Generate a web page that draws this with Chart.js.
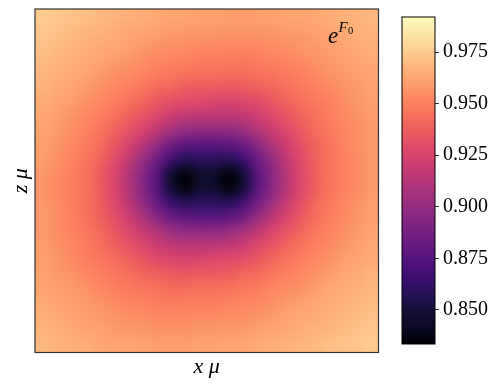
<!DOCTYPE html>
<html>
<head>
<meta charset="utf-8">
<script src="https://cdn.jsdelivr.net/npm/chart.js@4.4.0/dist/chart.umd.min.js"></script>
<style>
  html, body { margin: 0; padding: 0; background: #fff; }
  #wrap { position: relative; width: 499px; height: 388px; }
  #main { position: absolute; left: 0; top: 0; }
  #cbar { position: absolute; left: 395px; top: 0; }
</style>
</head>
<body>
<div id="wrap">
  <canvas id="main" width="499" height="388"></canvas>
  <canvas id="cbar" width="104" height="388"></canvas>
</div>
<script>
// cell centres along x (left to right) and z (top to bottom)
const xCells = [0.5, 1.5, 2.5, 3.5, 4.5, 5.5, 6.5, 7.5, 8.5, 9.5, 10.5, 11.5,
                12.5, 13.5, 14.5, 15.5, 16.5, 17.5, 18.5, 19.5, 20.5, 21.5, 22.5, 23.5];
const zCells = [23.5, 22.5, 21.5, 20.5, 19.5, 18.5, 17.5, 16.5, 15.5, 14.5, 13.5, 12.5,
                11.5, 10.5, 9.5, 8.5, 7.5, 6.5, 5.5, 4.5, 3.5, 2.5, 1.5, 0.5];

// e^{F0}, one row per z cell (top row first)
const ef0 = [
  [0.975,0.973,0.972,0.971,0.969,0.968,0.966,0.965,0.964,0.962,0.962,0.961,0.961,0.960,0.960,0.960,0.961,0.962,0.962,0.963,0.965,0.966,0.967,0.969],
  [0.973,0.972,0.970,0.968,0.967,0.965,0.963,0.962,0.961,0.959,0.959,0.958,0.958,0.957,0.957,0.957,0.958,0.959,0.959,0.961,0.962,0.964,0.966,0.967],
  [0.972,0.970,0.968,0.966,0.964,0.963,0.961,0.959,0.957,0.955,0.955,0.954,0.954,0.953,0.953,0.953,0.955,0.955,0.957,0.958,0.960,0.962,0.964,0.966],
  [0.970,0.968,0.966,0.964,0.962,0.960,0.958,0.955,0.953,0.952,0.951,0.949,0.949,0.949,0.948,0.949,0.951,0.952,0.954,0.956,0.958,0.960,0.962,0.964],
  [0.968,0.966,0.964,0.962,0.959,0.956,0.954,0.952,0.949,0.947,0.945,0.944,0.944,0.943,0.943,0.945,0.946,0.948,0.950,0.953,0.956,0.958,0.960,0.962],
  [0.967,0.964,0.962,0.959,0.956,0.953,0.950,0.946,0.942,0.940,0.937,0.936,0.936,0.935,0.936,0.938,0.940,0.944,0.947,0.950,0.953,0.956,0.958,0.961],
  [0.964,0.962,0.960,0.956,0.953,0.949,0.945,0.940,0.935,0.931,0.929,0.928,0.926,0.925,0.927,0.929,0.934,0.939,0.943,0.947,0.950,0.954,0.958,0.960],
  [0.963,0.960,0.957,0.953,0.950,0.945,0.939,0.933,0.927,0.920,0.916,0.914,0.914,0.914,0.916,0.921,0.927,0.933,0.939,0.944,0.949,0.953,0.956,0.959],
  [0.962,0.959,0.955,0.951,0.946,0.939,0.933,0.925,0.915,0.906,0.900,0.898,0.898,0.898,0.902,0.911,0.919,0.927,0.935,0.942,0.947,0.951,0.955,0.958],
  [0.960,0.957,0.953,0.949,0.943,0.935,0.925,0.913,0.899,0.885,0.878,0.876,0.876,0.878,0.883,0.895,0.909,0.921,0.931,0.939,0.945,0.951,0.955,0.958],
  [0.960,0.956,0.952,0.947,0.940,0.930,0.918,0.902,0.886,0.867,0.858,0.860,0.860,0.858,0.865,0.883,0.899,0.915,0.928,0.938,0.945,0.950,0.954,0.958],
  [0.958,0.954,0.950,0.945,0.937,0.927,0.912,0.895,0.876,0.848,0.836,0.846,0.846,0.836,0.848,0.876,0.895,0.912,0.927,0.937,0.945,0.950,0.954,0.958],
  [0.958,0.954,0.950,0.945,0.937,0.927,0.912,0.895,0.876,0.848,0.836,0.846,0.846,0.836,0.848,0.876,0.895,0.912,0.927,0.937,0.945,0.950,0.954,0.958],
  [0.958,0.954,0.950,0.945,0.938,0.928,0.915,0.899,0.883,0.865,0.858,0.860,0.860,0.858,0.867,0.886,0.902,0.918,0.930,0.940,0.947,0.952,0.956,0.960],
  [0.958,0.955,0.951,0.945,0.939,0.931,0.921,0.909,0.895,0.883,0.878,0.876,0.876,0.878,0.885,0.899,0.913,0.925,0.935,0.943,0.949,0.953,0.957,0.960],
  [0.958,0.955,0.951,0.947,0.942,0.935,0.927,0.919,0.911,0.902,0.898,0.898,0.898,0.900,0.906,0.915,0.925,0.933,0.939,0.946,0.951,0.955,0.959,0.962],
  [0.959,0.956,0.953,0.949,0.944,0.939,0.933,0.927,0.921,0.916,0.914,0.914,0.914,0.916,0.920,0.927,0.933,0.939,0.945,0.950,0.953,0.957,0.960,0.963],
  [0.960,0.958,0.954,0.950,0.947,0.943,0.939,0.934,0.929,0.927,0.925,0.926,0.928,0.929,0.931,0.935,0.940,0.945,0.949,0.953,0.956,0.960,0.962,0.964],
  [0.961,0.958,0.956,0.953,0.950,0.947,0.944,0.940,0.938,0.936,0.935,0.936,0.936,0.937,0.940,0.942,0.946,0.950,0.953,0.956,0.959,0.962,0.964,0.967],
  [0.962,0.960,0.958,0.956,0.953,0.950,0.948,0.946,0.945,0.943,0.943,0.944,0.944,0.945,0.947,0.949,0.952,0.954,0.956,0.959,0.962,0.964,0.966,0.968],
  [0.964,0.962,0.960,0.958,0.956,0.954,0.952,0.951,0.949,0.948,0.949,0.949,0.949,0.951,0.952,0.953,0.955,0.958,0.960,0.962,0.964,0.966,0.968,0.970],
  [0.966,0.964,0.962,0.960,0.958,0.957,0.955,0.955,0.953,0.953,0.953,0.954,0.954,0.955,0.955,0.957,0.959,0.961,0.963,0.964,0.966,0.968,0.970,0.972],
  [0.967,0.966,0.964,0.962,0.961,0.959,0.959,0.958,0.957,0.957,0.957,0.958,0.958,0.959,0.959,0.961,0.962,0.963,0.965,0.967,0.968,0.970,0.972,0.973],
  [0.969,0.967,0.966,0.965,0.963,0.962,0.962,0.961,0.960,0.960,0.960,0.961,0.961,0.962,0.962,0.964,0.965,0.966,0.968,0.969,0.971,0.972,0.973,0.975]
];

// colorbar
const cbarTicks = [0.850, 0.875, 0.900, 0.925, 0.950, 0.975];
const cbarMin = 0.8335;
const cbarMax = 0.992;

// magma colormap, evenly spaced stops
const magmaStops = ['#000004', '#0b0924', '#140e36', '#251255', '#3b0f70', '#50127b', '#641a80',
  '#782281', '#8c2981', '#a1307e', '#b73779', '#cb3e72', '#de4968', '#ec5c60', '#f7705c',
  '#fc8761', '#fe9f6d', '#feb77e', '#fecf92', '#fde5a7', '#fcfdbf'];
const magmaRgb = magmaStops.map(h => [1, 3, 5].map(k => parseInt(h.substr(k, 2), 16)));

function magma(v) {
  let t = (v - cbarMin) / (cbarMax - cbarMin);
  t = Math.max(0, Math.min(1, t)) * (magmaRgb.length - 1);
  const i = Math.min(Math.floor(t), magmaRgb.length - 2);
  const f = t - i;
  return magmaRgb[i].map((c, k) => Math.round(c + (magmaRgb[i + 1][k] - c) * f));
}

const serif = "'Liberation Serif', 'DejaVu Serif', serif";

// draws the e^{F0} field into the plot area through the x / y scales
const heatmapPlugin = {
  id: 'heatmap',
  beforeDatasetsDraw(chart) {
    const { ctx, chartArea, scales: { x, y } } = chart;
    const nx = xCells.length, nz = zCells.length;
    const off = document.createElement('canvas');
    off.width = nx;
    off.height = nz;
    const octx = off.getContext('2d');
    const img = octx.createImageData(nx, nz);
    ef0.forEach((row, j) => row.forEach((v, i) => {
      const c = magma(v);
      const k = (j * nx + i) * 4;
      img.data[k] = c[0];
      img.data[k + 1] = c[1];
      img.data[k + 2] = c[2];
      img.data[k + 3] = 255;
    }));
    octx.putImageData(img, 0, 0);

    const left = x.getPixelForValue(xCells[0] - 0.5);
    const right = x.getPixelForValue(xCells[nx - 1] + 0.5);
    const top = y.getPixelForValue(zCells[0] + 0.5);
    const bottom = y.getPixelForValue(zCells[nz - 1] - 0.5);
    ctx.save();
    ctx.imageSmoothingEnabled = true;
    ctx.imageSmoothingQuality = 'high';
    ctx.drawImage(off, left, top, right - left, bottom - top);

    // frame
    ctx.strokeStyle = '#333';
    ctx.lineWidth = 1.2;
    ctx.strokeRect(chartArea.left, chartArea.top, chartArea.width, chartArea.height);

    // label e^{F_0}
    ctx.fillStyle = '#000';
    ctx.textBaseline = 'alphabetic';
    ctx.font = 'italic 23px ' + serif;
    ctx.fillText('e', chartArea.right - 50.5, 43);
    ctx.font = 'italic 15px ' + serif;
    ctx.fillText('F', chartArea.right - 40, 32);
    ctx.font = '10.5px ' + serif;
    ctx.fillText('0', chartArea.right - 30.5, 34);
    ctx.restore();
  }
};

new Chart(document.getElementById('main'), {
  type: 'scatter',
  data: { datasets: [{ data: [] }] },
  options: {
    responsive: false,
    animation: false,
    layout: { padding: { left: 0.6, right: 120.5, top: 9, bottom: 1.1 } },
    plugins: { legend: { display: false }, tooltip: { enabled: false } },
    scales: {
      x: {
        min: 0, max: 24,
        ticks: { display: false },
        grid: { display: false, drawTicks: false },
        border: { display: false },
        title: {
          display: true, text: 'x μ', color: '#000',
          font: { family: serif, size: 22, style: 'italic' },
          padding: { top: 2, bottom: 6 }
        }
      },
      y: {
        min: 0, max: 24,
        ticks: { display: false },
        grid: { display: false, drawTicks: false },
        border: { display: false },
        title: {
          display: true, text: 'z μ', color: '#000',
          font: { family: serif, size: 22, style: 'italic' },
          padding: { top: 7, bottom: 1 }
        }
      }
    }
  },
  plugins: [heatmapPlugin]
});

// colorbar gradient drawn along its own value scale
const colorbarPlugin = {
  id: 'colorbar',
  beforeDatasetsDraw(chart) {
    const { ctx, chartArea, scales: { y } } = chart;
    ctx.save();
    for (let py = Math.floor(chartArea.top); py < chartArea.bottom; py++) {
      const c = magma(y.getValueForPixel(py + 0.5));
      ctx.fillStyle = 'rgb(' + c.join(',') + ')';
      ctx.fillRect(chartArea.left, py, chartArea.width, 1);
    }
    ctx.strokeStyle = '#000';
    ctx.lineWidth = 1;
    ctx.strokeRect(chartArea.left, chartArea.top, chartArea.width, chartArea.height);
    ctx.restore();
  }
};

new Chart(document.getElementById('cbar'), {
  type: 'scatter',
  data: { datasets: [{ data: [] }] },
  options: {
    responsive: false,
    animation: false,
    layout: { padding: { left: 7, right: 0, top: 17, bottom: 44 } },
    plugins: { legend: { display: false }, tooltip: { enabled: false } },
    scales: {
      x: { display: false, min: 0, max: 1 },
      y: {
        position: 'right',
        min: cbarMin, max: cbarMax,
        afterBuildTicks: (s) => { s.ticks = cbarTicks.map(v => ({ value: v })); },
        afterFit: (s) => { s.width = 64; },
        ticks: {
          color: '#000',
          padding: 4,
          font: { family: serif, size: 20 },
          callback: (v) => Number(v).toFixed(3)
        },
        grid: { drawOnChartArea: false, tickLength: 4, color: '#000', lineWidth: 0.8 },
        border: { display: false }
      }
    }
  },
  plugins: [colorbarPlugin]
});
</script>
</body>
</html>
